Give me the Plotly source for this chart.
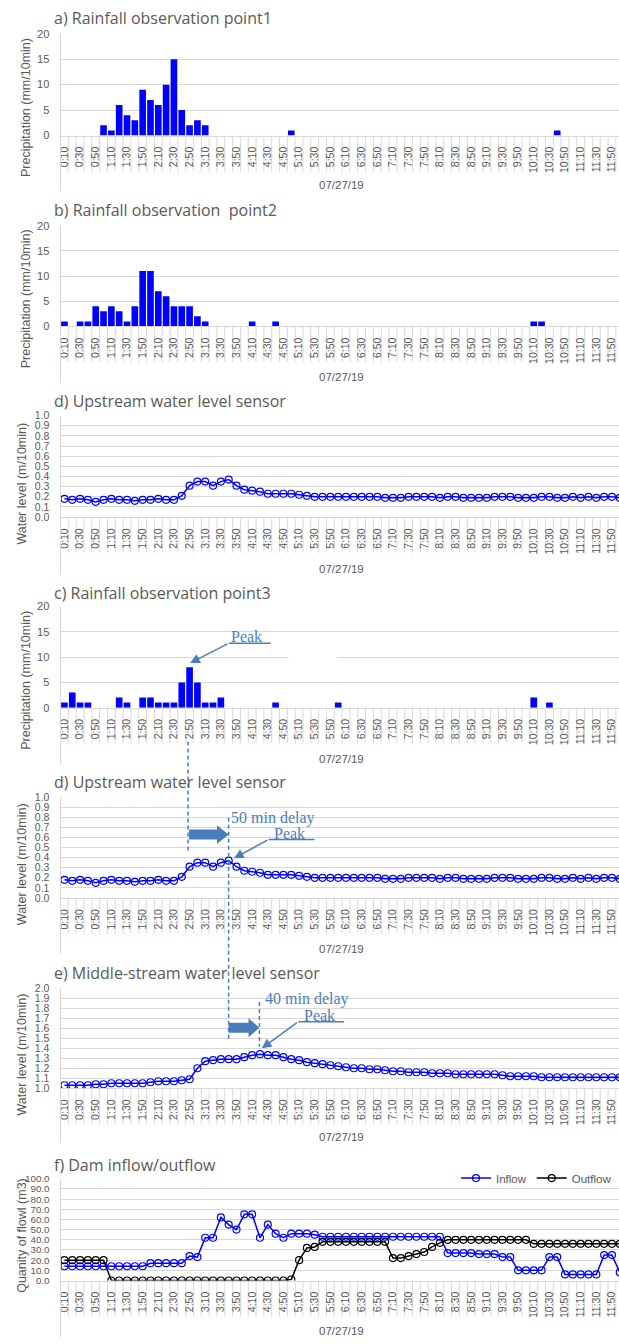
import plotly.graph_objects as go

W, H = 619, 1344

# ---------------- data ----------------
TIMES = ["0:10", "0:20", "0:30", "0:40", "0:50", "1:00", "1:10", "1:20", "1:30", "1:40", "1:50", "2:00",
         "2:10", "2:20", "2:30", "2:40", "2:50", "3:00", "3:10", "3:20", "3:30", "3:40", "3:50", "4:00",
         "4:10", "4:20", "4:30", "4:40", "4:50", "5:00", "5:10", "5:20", "5:30", "5:40", "5:50", "6:00",
         "6:10", "6:20", "6:30", "6:40", "6:50", "7:00", "7:10", "7:20", "7:30", "7:40", "7:50", "8:00",
         "8:10", "8:20", "8:30", "8:40", "8:50", "9:00", "9:10", "9:20", "9:30", "9:40", "9:50", "10:00",
         "10:10", "10:20", "10:30", "10:40", "10:50", "11:00", "11:10", "11:20", "11:30", "11:40", "11:50", "12:00"]
TICK_LABELS = TIMES[::2]
DATE_LABEL = "07/27/19"

rain_point1 = [0, 0, 0, 0, 0, 2, 1, 6, 4, 3, 9, 7,
               6, 10, 15, 5, 2, 3, 2, 0, 0, 0, 0, 0,
               0, 0, 0, 0, 0, 1, 0, 0, 0, 0, 0, 0,
               0, 0, 0, 0, 0, 0, 0, 0, 0, 0, 0, 0,
               0, 0, 0, 0, 0, 0, 0, 0, 0, 0, 0, 0,
               0, 0, 0, 1, 0, 0, 0, 0, 0, 0, 0, 0]
rain_point2 = [1, 0, 1, 1, 4, 3, 4, 3, 1, 4, 11, 11,
               7, 6, 4, 4, 4, 2, 1, 0, 0, 0, 0, 0,
               1, 0, 0, 1, 0, 0, 0, 0, 0, 0, 0, 0,
               0, 0, 0, 0, 0, 0, 0, 0, 0, 0, 0, 0,
               0, 0, 0, 0, 0, 0, 0, 0, 0, 0, 0, 0,
               1, 1, 0, 0, 0, 0, 0, 0, 0, 0, 0, 0]
rain_point3 = [1, 3, 1, 1, 0, 0, 0, 2, 1, 0, 2, 2,
               1, 1, 1, 5, 8, 5, 1, 1, 2, 0, 0, 0,
               0, 0, 0, 1, 0, 0, 0, 0, 0, 0, 0, 1,
               0, 0, 0, 0, 0, 0, 0, 0, 0, 0, 0, 0,
               0, 0, 0, 0, 0, 0, 0, 0, 0, 0, 0, 0,
               2, 0, 1, 0, 0, 0, 0, 0, 0, 0, 0, 0]
upstream_level = [0.18, 0.17, 0.18, 0.17, 0.15, 0.17, 0.18, 0.17, 0.17, 0.16, 0.17, 0.17,
                  0.18, 0.17, 0.17, 0.21, 0.31, 0.35, 0.35, 0.31, 0.35, 0.37, 0.31, 0.27,
                  0.26, 0.25, 0.23, 0.23, 0.23, 0.23, 0.22, 0.21, 0.20, 0.20, 0.20, 0.20,
                  0.20, 0.20, 0.20, 0.20, 0.20, 0.19, 0.19, 0.19, 0.20, 0.20, 0.20, 0.20,
                  0.19, 0.20, 0.20, 0.19, 0.19, 0.19, 0.19, 0.20, 0.20, 0.20, 0.19, 0.19,
                  0.19, 0.20, 0.20, 0.19, 0.19, 0.20, 0.19, 0.20, 0.19, 0.20, 0.20, 0.19]
midstream_level = [1.03, 1.03, 1.03, 1.03, 1.04, 1.04, 1.05, 1.05, 1.05, 1.05, 1.05, 1.06,
                   1.07, 1.07, 1.07, 1.08, 1.09, 1.20, 1.27, 1.28, 1.29, 1.29, 1.29, 1.31,
                   1.33, 1.34, 1.33, 1.33, 1.31, 1.29, 1.28, 1.26, 1.25, 1.24, 1.23, 1.22,
                   1.21, 1.20, 1.20, 1.19, 1.19, 1.18, 1.17, 1.17, 1.16, 1.16, 1.16, 1.15,
                   1.15, 1.15, 1.14, 1.14, 1.14, 1.14, 1.14, 1.14, 1.13, 1.12, 1.12, 1.12,
                   1.12, 1.11, 1.11, 1.11, 1.11, 1.11, 1.11, 1.11, 1.11, 1.11, 1.11, 1.11]
inflow = [14, 14, 14, 14, 14, 14, 14, 14, 14, 14, 14, 17,
          17, 17, 17, 17, 24, 23, 42, 42, 62, 55, 50, 65,
          65, 42, 55, 46, 42, 46, 46, 46, 45, 43, 43, 43,
          43, 43, 43, 43, 43, 43, 43, 43, 43, 43, 43, 43,
          43, 27, 27, 27, 27, 26, 26, 26, 23, 23, 10, 10,
          10, 10, 23, 23, 6, 6, 6, 6, 6, 25, 25, 8]
outflow = [20, 20, 20, 20, 20, 20, 0, 0, 0, 0, 0, 0,
           0, 0, 0, 0, 0, 0, 0, 0, 0, 0, 0, 0,
           0, 0, 0, 0, 0, 1, 20, 32, 33, 38, 38, 38,
           38, 38, 38, 38, 38, 38, 22, 22, 24, 26, 28, 33,
           37, 40, 40, 40, 40, 40, 40, 40, 40, 40, 40, 40,
           36, 36, 36, 36, 36, 36, 36, 36, 36, 36, 36, 36]

# ---------------- styling / layout helpers ----------------
GRAY = "#595959"
GRID = "#d9d9d9"
BLUE = "#0000FF"
ANN = "#4A7EBB"
FONT = "Liberation Sans"
TFONT = "Open Sans"
SERIF = "Liberation Serif"
PLOT_LEFT = 57.8


def px(x):
    return x / W


def py(y):
    return 1 - y / H


panels = [
    dict(title="a) Rainfall observation point1", kind="bar", top=28, bot=130.7, title_y=12, date_y=181,
         yr=[0, 20], dtick=5, fmt="d", ytitle="Precipitation (mm/10min)", yt_y=102, yt_x=23, yfs=11),
    dict(title="b) Rainfall observation  point2", kind="bar", top=221.7, bot=323.3, title_y=206, date_y=374,
         yr=[0, 20], dtick=5, fmt="d", ytitle="Precipitation (mm/10min)", yt_y=295, yt_x=23, yfs=11),
    dict(title="d) Upstream water level sensor", kind="line", top=413.3, bot=515.7, title_y=399, date_y=568,
         yr=[0, 1.0], dtick=0.1, fmt=".1f", ytitle="Water level (m/10min)", yt_y=482, yt_x=19, yfs=10.5),
    dict(title="c) Rainfall observation point3", kind="bar", top=606, bot=708, title_y=592, date_y=760,
         yr=[0, 20], dtick=5, fmt="d", ytitle="Precipitation (mm/10min)", yt_y=680, yt_x=23, yfs=11),
    dict(title="d) Upstream water level sensor", kind="line", top=798.3, bot=900, title_y=783, date_y=951,
         yr=[0, 1.0], dtick=0.1, fmt=".1f", ytitle="Water level (m/10min)", yt_y=866, yt_x=19, yfs=10.5),
    dict(title="e) Middle-stream water level sensor", kind="line", top=991, bot=1092, title_y=976, date_y=1141,
         yr=[1.0, 2.0], dtick=0.1, fmt=".1f", ytitle="Water level (m/10min)", yt_y=1058, yt_x=19, yfs=10.5),
    dict(title="f) Dam inflow/outflow", kind="flow", top=1183.3, bot=1286, title_y=1169, date_y=1337,
         yr=[0, 100], dtick=10, fmt=".1f", ytitle="Quanity of flowl (m3)", yt_y=1240, yt_x=19, yfs=9.8),
]
series = [rain_point1, rain_point2, upstream_level, rain_point3, upstream_level, midstream_level, None]

fig = go.Figure()
shapes = []
annotations = []
layout = {}

for i, (p, data) in enumerate(zip(panels, series), start=1):
    xa = "x" if i == 1 else f"x{i}"
    ya = "y" if i == 1 else f"y{i}"
    if p["kind"] == "bar":
        fig.add_trace(go.Bar(x=TIMES, y=data, marker=dict(color=BLUE, line=dict(width=0)),
                             xaxis=xa, yaxis=ya, showlegend=False))
    elif p["kind"] == "line":
        fig.add_trace(go.Scatter(x=TIMES, y=data, mode="lines+markers",
                                 line=dict(color=BLUE, width=1.5),
                                 marker=dict(symbol="circle-open", size=7, color=BLUE, line=dict(width=1.2)),
                                 xaxis=xa, yaxis=ya, showlegend=False))
    else:
        fig.add_trace(go.Scatter(x=TIMES, y=inflow, mode="lines+markers", name="Inflow",
                                 line=dict(color=BLUE, width=1.5),
                                 marker=dict(symbol="circle-open", size=7, color=BLUE, line=dict(width=1.2)),
                                 xaxis=xa, yaxis=ya))
        fig.add_trace(go.Scatter(x=TIMES, y=outflow, mode="lines+markers", name="Outflow",
                                 line=dict(color="#000000", width=1.5),
                                 marker=dict(symbol="circle-open", size=7, color="#000000", line=dict(width=1.2)),
                                 xaxis=xa, yaxis=ya))

    xkey = "xaxis" if i == 1 else f"xaxis{i}"
    ykey = "yaxis" if i == 1 else f"yaxis{i}"
    layout[xkey] = dict(domain=[px(PLOT_LEFT), 1.0], anchor=ya, type="category",
                        categoryorder="array", categoryarray=TIMES,
                        range=[-0.5, 70.9], tickmode="array", tickvals=TICK_LABELS, ticktext=TICK_LABELS,
                        tickangle=-90, tickfont=dict(size=10.5, color=GRAY, family=FONT),
                        ticks="outside", ticklen=6, tickcolor="rgba(0,0,0,0)",
                        showgrid=False, showline=True, linecolor=GRID, linewidth=1, zeroline=False,
                        fixedrange=True)
    layout[ykey] = dict(domain=[py(p["bot"]), py(p["top"])], anchor=xa, range=p["yr"],
                        dtick=p["dtick"], tick0=p["yr"][0], tickformat=p["fmt"],
                        tickfont=dict(size=p["yfs"], color=GRAY, family=FONT),
                        ticks="outside", ticklen=8, tickcolor="rgba(0,0,0,0)",
                        showgrid=True, gridcolor=GRID, gridwidth=1, zeroline=False, showline=False,
                        fixedrange=True)

    # category boundary tick lines in the label area
    for k in range(1, len(TIMES)):
        if k - 0.5 > 70.9:
            break
        shapes.append(dict(type="line", xref=xa, yref="paper", x0=k - 0.5, x1=k - 0.5,
                           y0=py(p["bot"]), y1=py(p["bot"] + 36), line=dict(color=GRID, width=1), layer="below"))
    # left border of the chart (multi-level axis divider)
    shapes.append(dict(type="line", xref="paper", yref="paper", x0=px(PLOT_LEFT), x1=px(PLOT_LEFT),
                       y0=py(p["top"]), y1=py(p["date_y"] + 6), line=dict(color=GRID, width=1)))

    annotations.append(dict(text=p["title"], xref="paper", yref="paper", x=px(49), y=py(p["title_y"]),
                            xanchor="left", yanchor="middle", showarrow=False,
                            font=dict(size=16, color=GRAY, family=TFONT)))
    annotations.append(dict(text=DATE_LABEL, xref="paper", yref="paper", x=px(340), y=py(p["date_y"]),
                            xanchor="center", yanchor="middle", showarrow=False,
                            font=dict(size=11.5, color=GRAY, family=FONT)))
    annotations.append(dict(text=p["ytitle"], xref="paper", yref="paper", x=px(p["yt_x"]), y=py(p["yt_y"]),
                            xanchor="center", yanchor="middle", textangle=-90, showarrow=False,
                            font=dict(size=12.5, color=GRAY, family=FONT)))


# ---------------- annotation graphics (peaks / delays) ----------------
def pline(x0, y0, x1, y1, dash=None, width=1.5):
    d = dict(type="line", xref="paper", yref="paper", x0=px(x0), y0=py(y0), x1=px(x1), y1=py(y1),
             line=dict(color=ANN, width=width))
    if dash:
        d["line"]["dash"] = dash
    return d


def block_arrow(x0, x1, xh, yc, body_h, head_h):
    pts = [(x0, yc - body_h / 2), (xh, yc - body_h / 2), (xh, yc - head_h / 2), (x1, yc),
           (xh, yc + head_h / 2), (xh, yc + body_h / 2), (x0, yc + body_h / 2)]
    path = "M " + " L ".join(f"{px(a):.5f} {py(b):.5f}" for a, b in pts) + " Z"
    return dict(type="path", xref="paper", yref="paper", path=path, fillcolor=ANN, line=dict(width=0))


def arrow(tail, head):
    return dict(xref="paper", yref="paper", x=px(head[0]), y=py(head[1]), ax=tail[0] - head[0],
                ay=tail[1] - head[1], axref="pixel", ayref="pixel", text="", showarrow=True,
                arrowhead=2, arrowsize=1.3, arrowwidth=1.5, arrowcolor=ANN)


def label(text, x, y):
    return dict(text=text, xref="paper", yref="paper", x=px(x), y=py(y), xanchor="center", yanchor="middle",
                showarrow=False, font=dict(size=16, color=ANN, family=SERIF))


# white patch over gridline in panel c
shapes.append(dict(type="line", xref="paper", yref="paper", x0=px(287), x1=px(336), y0=py(657), y1=py(657),
                   line=dict(color="white", width=2)))

# panel c peak
shapes.append(pline(227, 643, 269, 643))
annotations.append(arrow((227, 643), (188, 663)))
annotations.append(label("Peak", 245, 636))

# dashed guide lines
shapes.append(pline(186, 742, 186, 853, dash="4px,3px"))
shapes.append(pline(226.7, 819, 226.7, 1045, dash="4px,3px"))
shapes.append(pline(257.7, 1005, 257.7, 1050, dash="4px,3px"))

# panel d (second) delay
shapes.append(block_arrow(187, 226.7, 215, 836, 10, 19))
annotations.append(label("50 min delay", 271.5, 819))
shapes.append(pline(267, 841, 313, 841))
annotations.append(arrow((267, 841), (232, 860)))
annotations.append(label("Peak", 288, 835))

# panel e delay
shapes.append(block_arrow(226.7, 257.7, 246.7, 1031, 10, 19))
annotations.append(label("40 min delay", 305, 1002))
shapes.append(pline(296.7, 1025, 342.7, 1025))
annotations.append(arrow((296.7, 1025), (260, 1051.7)))
annotations.append(label("Peak", 318.3, 1019))

fig.update_layout(
    width=W, height=H, margin=dict(l=0, r=0, t=0, b=0),
    paper_bgcolor="white", plot_bgcolor="white",
    bargap=0.15,
    font=dict(family=FONT, color=GRAY),
    shapes=shapes, annotations=annotations,
    legend=dict(orientation="h", x=px(617), y=py(1168), xanchor="right", yanchor="top",
                font=dict(size=11.5, color=GRAY, family=FONT), bgcolor="rgba(0,0,0,0)",
                itemwidth=30, tracegroupgap=0),
    **layout,
)

fig.write_html("out.html", config={"displayModeBar": False},
               post_script="document.body.style.margin='0px';")
